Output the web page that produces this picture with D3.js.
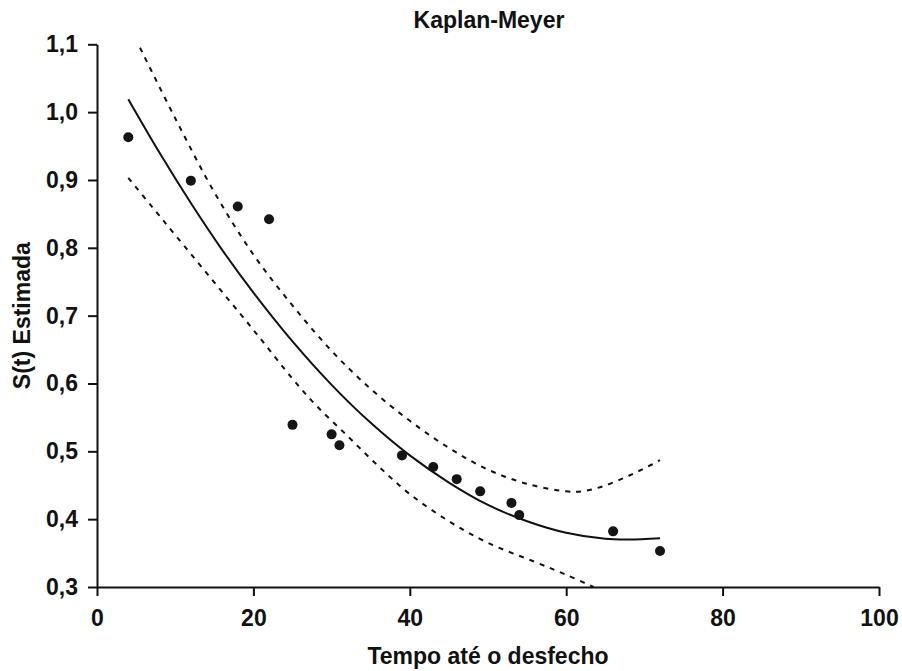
<!DOCTYPE html>
<html>
<head>
<meta charset="utf-8">
<script src="https://cdn.jsdelivr.net/npm/d3@7"></script>
<style>
  body { margin: 0; background: #fff; }
  text { font-family: "Liberation Sans", Arial, sans-serif; font-weight: bold; fill: #111; }
</style>
</head>
<body>
<div id="chart"></div>
<script>
// observed times and KM estimates
const tempo = [4, 12, 18, 22, 25, 30, 31, 39, 43, 46, 49, 53, 54, 66, 72];
const sEstimada = [0.963, 0.899, 0.861, 0.842, 0.539, 0.525, 0.509, 0.494, 0.477, 0.459, 0.441, 0.424, 0.406, 0.382, 0.353];

// fitted curve
const ajusteX = [4, 8, 12, 16, 20, 25, 30, 35, 40, 45, 50, 55, 60, 65, 68, 72];
const ajusteY = [1.019, 0.94, 0.866, 0.797, 0.734, 0.662, 0.598, 0.542, 0.494, 0.454, 0.421, 0.397, 0.380, 0.371, 0.370, 0.372];

// confidence bands (dashed)
const superiorX = [5.5, 10, 15, 20, 25, 30, 35, 40, 45, 50, 55, 60, 62, 64, 66, 68, 70, 72];
const superiorY = [1.095, 0.991, 0.882, 0.79, 0.715, 0.648, 0.592, 0.545, 0.505, 0.473, 0.452, 0.441, 0.441, 0.446, 0.454, 0.464, 0.475, 0.487];
const inferiorX = [4, 7, 10, 15, 20, 25, 28, 32, 36, 40, 45, 50, 56, 60, 63.5];
const inferiorY = [0.903, 0.861, 0.819, 0.749, 0.679, 0.607, 0.568, 0.523, 0.478, 0.437, 0.397, 0.365, 0.337, 0.318, 0.300];

const xTicks = [0, 20, 40, 60, 80, 100];
const yTicks = [0.3, 0.4, 0.5, 0.6, 0.7, 0.8, 0.9, 1.0, 1.1];

const width = 902, height = 671;
const svg = d3.select('#chart').append('svg')
  .attr('width', width)
  .attr('height', height);

const x = d3.scaleLinear().domain([0, 100]).range([97, 879]);
const y = d3.scaleLinear().domain([0.3, 1.1]).range([587, 44.3]);

const fmt = d => d3.format('.1f')(d).replace('.', ',');

// axes
const xAxis = svg.append('g')
  .attr('transform', `translate(0,${y(0.3)})`)
  .call(d3.axisBottom(x).tickValues(xTicks).tickSize(9).tickSizeOuter(0).tickPadding(14).tickFormat(d3.format('d')));
const yAxis = svg.append('g')
  .attr('transform', `translate(${x(0)},0)`)
  .call(d3.axisLeft(y).tickValues(yTicks).tickSize(9).tickSizeOuter(0).tickPadding(10).tickFormat(fmt));

[xAxis, yAxis].forEach(g => {
  g.selectAll('path, line').attr('stroke', '#111').attr('stroke-width', 2);
  g.selectAll('text')
    .attr('fill', '#111')
    .style('font-size', '23px')
    .style('font-family', '"Liberation Sans", Arial, sans-serif')
    .style('font-weight', 'bold');
});

// curves
const line = (xs, ys) => d3.line()
  .x((d, i) => x(xs[i]))
  .y((d, i) => y(ys[i]))
  .curve(d3.curveCatmullRom)(xs);

svg.append('path')
  .attr('d', line(ajusteX, ajusteY))
  .attr('fill', 'none')
  .attr('stroke', '#111')
  .attr('stroke-width', 2);

[[superiorX, superiorY], [inferiorX, inferiorY]].forEach(([xs, ys]) => {
  svg.append('path')
    .attr('d', line(xs, ys))
    .attr('fill', 'none')
    .attr('stroke', '#111')
    .attr('stroke-width', 2)
    .attr('stroke-dasharray', '5,6');
});

// points
svg.append('g').selectAll('circle')
  .data(tempo)
  .join('circle')
  .attr('cx', d => x(d))
  .attr('cy', (d, i) => y(sEstimada[i]))
  .attr('r', 5)
  .attr('fill', '#151515');

// titles
svg.append('text')
  .attr('x', 489).attr('y', 28)
  .attr('text-anchor', 'middle')
  .style('font-size', '23px')
  .text('Kaplan-Meyer');

svg.append('text')
  .attr('x', (x(0) + x(100)) / 2).attr('y', 664)
  .attr('text-anchor', 'middle')
  .style('font-size', '23px')
  .text('Tempo até o desfecho');

svg.append('text')
  .attr('transform', `translate(30,${(y(0.3) + y(1.1)) / 2}) rotate(-90)`)
  .attr('text-anchor', 'middle')
  .style('font-size', '23px')
  .text('S(t) Estimada');
</script>
</body>
</html>
